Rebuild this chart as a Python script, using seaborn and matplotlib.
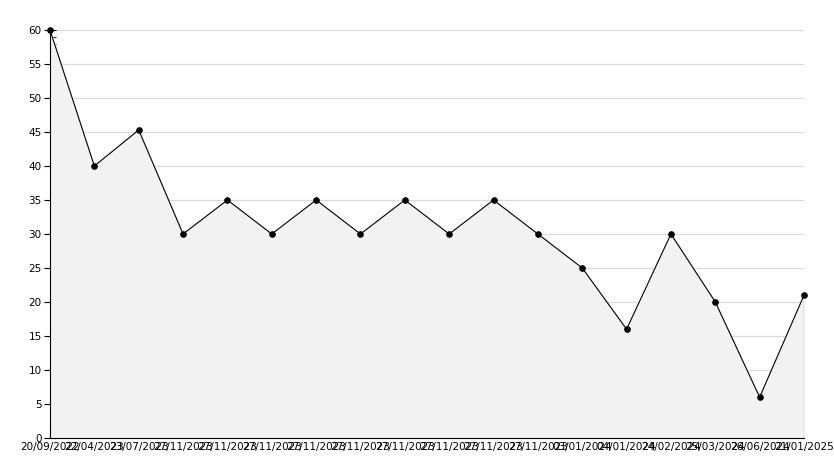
import matplotlib
matplotlib.use("Agg")
import matplotlib.pyplot as plt
import seaborn as sns
import pandas as pd
import numpy as np
from matplotlib.ticker import MultipleLocator

dates = ["20/09/2022", "22/04/2023", "23/07/2023", "27/11/2023", "27/11/2023",
         "27/11/2023", "27/11/2023", "27/11/2023", "27/11/2023", "27/11/2023",
         "27/11/2023", "27/11/2023", "03/01/2024", "04/01/2024", "24/02/2024",
         "25/03/2024", "26/06/2024", "21/01/2025"]
values = [60, 40, 45.3, 30, 35, 30, 35, 30, 35, 30, 35, 30, 25, 16, 30, 20, 6, 21]

df = pd.DataFrame({"idx": np.arange(len(values)), "value": values})

sns.set_style("white")
plt.rcParams["font.family"] = ["DejaVu Sans"]

fig = plt.figure(figsize=(8.34, 4.68), dpi=100)
ax = fig.add_axes([50 / 834, 30 / 468, (804 - 50) / 834, (438 - 30) / 468])

ax.fill_between(df["idx"], df["value"], 0, color="#f2f2f2", zorder=1)
sns.lineplot(data=df, x="idx", y="value", ax=ax, color="black", linewidth=0.8,
             marker="o", markersize=4, markeredgecolor="black",
             markerfacecolor="black", zorder=3, clip_on=False)
ax.vlines(df["idx"].iloc[-1], 0, values[-1], color="black", linewidth=0.8, zorder=3)

ax.set_xlim(0, len(values) - 1)
ax.set_ylim(0, 60)
ax.yaxis.set_major_locator(MultipleLocator(5))
ax.yaxis.set_minor_locator(MultipleLocator(1))
ax.set_xticks(df["idx"])
ax.set_xticklabels(dates)
ax.grid(axis="y", which="major", color="#d9d9d9", linewidth=0.8, zorder=0)
ax.set_axisbelow(True)

for s in ["top", "right"]:
    ax.spines[s].set_visible(False)
for s in ["left", "bottom"]:
    ax.spines[s].set_color("black")
    ax.spines[s].set_linewidth(0.8)

ax.tick_params(axis="y", which="major", direction="inout", length=8, width=0.8,
               labelsize=7.5, colors="black", left=True, pad=2)
ax.tick_params(axis="y", which="minor", direction="in", length=4, width=0.8, left=True)
ax.tick_params(axis="x", which="major", direction="in", length=5, width=0.8,
               labelsize=7.5, colors="black", bottom=True, pad=3)
ax.set_xlabel("")
ax.set_ylabel("")

fig.savefig("out.png", dpi=100, facecolor="white")
